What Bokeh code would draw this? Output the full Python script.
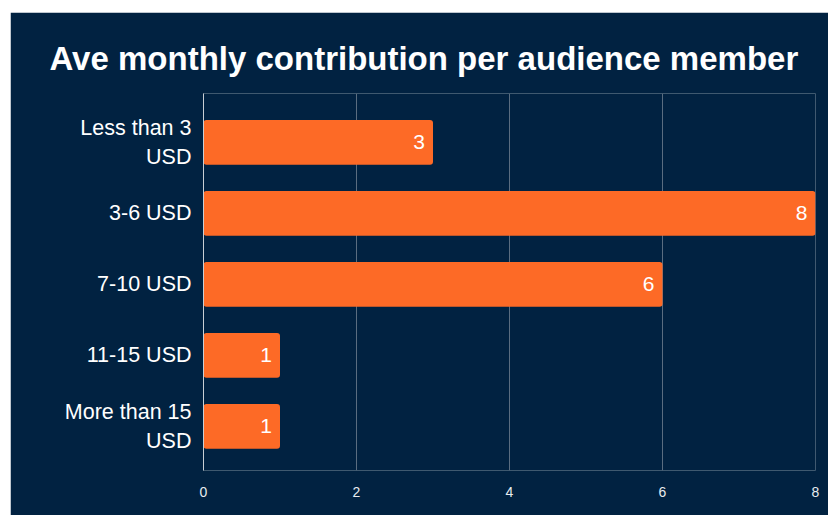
from bokeh.plotting import figure
from bokeh.models import Range1d, FixedTicker, ColumnDataSource, Spacer
from bokeh.layouts import column, row
from bokeh.embed import file_html
from bokeh.resources import INLINE
from bokeh.core.properties import value

categories = ["Less than 3\nUSD", "3-6 USD", "7-10 USD", "11-15 USD", "More than 15\nUSD"]
counts = [3, 8, 6, 1, 1]
x_ticks = [0, 2, 4, 6, 8]

BG = "#012241"
ORANGE = "#fd6a26"

pos = list(range(len(categories)))
src = ColumnDataSource(dict(y=pos, v=counts, lbl=[str(c) for c in counts]))

p = figure(width=818, height=503, output_backend="svg", toolbar_location=None,
           x_range=Range1d(0, 8), y_range=Range1d(4.62, -0.69),
           background_fill_color=BG, border_fill_color=BG, outline_line_color=None,
           min_border_left=193, min_border_right=13, min_border_bottom=45, min_border_top=81)
p.outline_line_color = None

p.title.text = "Ave monthly contribution per audience member"
p.title.text_font = "Liberation Sans"
p.title.text_font_size = "33px"
p.title.text_color = "white"
p.title.align = "left"
p.title.offset = -154
p.title.standoff = 34
p.title.text_font_style = "bold"

p.hbar(y="y", right="v", left=0, height=0.63, source=src, fill_color=ORANGE, line_color=None,
       border_radius=3)
p.text(x="v", y="y", text="lbl", source=src, x_offset=-8, text_align="right", text_baseline="middle",
       text_color="white", text_font=value("Liberation Sans"), text_font_size="21px")

p.xaxis.ticker = FixedTicker(ticks=x_ticks)
p.xaxis.axis_line_color = None
p.xaxis.major_tick_line_color = None
p.xaxis.minor_tick_line_color = None
p.xaxis.major_label_text_color = "#e8ecef"
p.xaxis.major_label_text_font = "Liberation Sans"
p.xaxis.major_label_text_font_size = "14px"
p.xaxis.major_label_standoff = 10

p.yaxis.ticker = FixedTicker(ticks=pos)
p.yaxis.major_label_overrides = {i: c for i, c in enumerate(categories)}
p.yaxis.axis_line_color = "#c8ced4"
p.yaxis.axis_line_width = 1
p.yaxis.major_tick_line_color = None
p.yaxis.minor_tick_line_color = None
p.yaxis.major_label_text_color = "white"
p.yaxis.major_label_text_font = "Liberation Sans"
p.yaxis.major_label_text_font_size = "21.5px"
p.yaxis.major_label_standoff = 6

p.xgrid.ticker = FixedTicker(ticks=x_ticks)
p.xgrid.grid_line_color = "#5a6d80"
p.ygrid.grid_line_color = None

layout = column(Spacer(height=12), row(Spacer(width=10), p))
open("out.html", "w").write(file_html(layout, INLINE))
